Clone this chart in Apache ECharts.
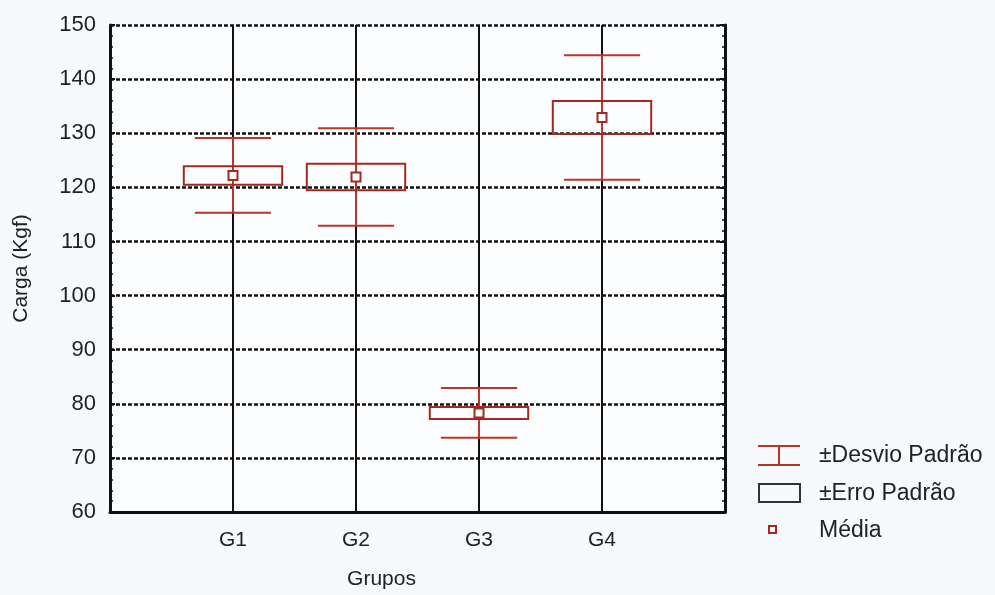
<!DOCTYPE html>
<html>
<head>
<meta charset="utf-8">
<script src="https://cdn.jsdelivr.net/npm/echarts@6/dist/echarts.min.js"></script>
<style>
html,body{margin:0;padding:0;background:#f7fafc;}
#chart{width:995px;height:595px;}
</style>
</head>
<body>
<div id="chart"></div>
<script>
var categories = ['G1', 'G2', 'G3', 'G4'];
var means = [122.2, 121.9, 78.3, 132.9];
var sdValues = [6.9, 9.0, 4.6, 11.5];
var seValues = [1.7, 2.45, 1.1, 3.05];
var yTicks = [60, 70, 80, 90, 100, 110, 120, 130, 140, 150];

var RED = '#b8352b';
var BOXRED = '#a3281f';
var FONT = 'Liberation Sans';

var whiskerData = categories.map(function (c, i) { return [i + 1, means[i], sdValues[i]]; });
var boxData = categories.map(function (c, i) { return [i + 1, means[i], seValues[i]]; });
var meanData = categories.map(function (c, i) { return [i + 1, means[i]]; });

var chart = echarts.init(document.getElementById('chart'), null, {renderer: 'canvas'});
var option = {
  backgroundColor: '#f7fafc',
  animation: false,
  textStyle: {fontFamily: FONT},
  grid: {left: 110, right: 270, top: 25, bottom: 80, show: true, backgroundColor: '#fcfdfe', borderWidth: 0},
  xAxis: {
    type: 'value', min: 0, max: 5, interval: 1,
    name: 'Grupos', nameLocation: 'middle', nameGap: 57,
    nameTextStyle: {fontFamily: FONT, fontSize: 21, color: '#222', padding: [0, 72, 0, 0]},
    axisLine: {show: true, onZero: false, lineStyle: {color: '#111', width: 3}},
    axisTick: {show: false},
    axisLabel: {
      fontFamily: FONT, fontSize: 21, color: '#222', margin: 18,
      formatter: function (v) { return (v >= 1 && v <= categories.length) ? categories[v - 1] : ''; }
    },
    splitLine: {show: true, lineStyle: {color: '#111', width: 2, type: 'solid'}}
  },
  yAxis: [{
    type: 'value', min: yTicks[0], max: yTicks[yTicks.length - 1], interval: 10,
    name: 'Carga (Kgf)', nameLocation: 'middle', nameGap: 78,
    nameTextStyle: {fontFamily: FONT, fontSize: 21, color: '#222'},
    axisLine: {show: true, onZero: false, lineStyle: {color: '#111', width: 3}},
    axisTick: {show: true, inside: true, length: 5, lineStyle: {color: '#111', width: 2}},
    minorTick: {show: true, splitNumber: 5, length: 3, lineStyle: {color: '#111', width: 1.5}},
    axisLabel: {fontFamily: FONT, fontSize: 22, color: '#222', margin: 14},
    splitLine: {show: true, lineStyle: {color: '#111', width: 2.5, type: [4, 2]}}
  }, {
    type: 'value', min: yTicks[0], max: yTicks[yTicks.length - 1], interval: 10, position: 'right',
    axisLine: {show: true, onZero: false, lineStyle: {color: '#111', width: 3}},
    axisTick: {show: true, inside: true, length: 5, lineStyle: {color: '#111', width: 2}},
    minorTick: {show: true, splitNumber: 5, length: 3, lineStyle: {color: '#111', width: 1.5}},
    axisLabel: {show: false},
    splitLine: {show: false}
  }],
  series: [{
    name: '±Desvio Padrão',
    type: 'custom',
    data: whiskerData,
    z: 3,
    renderItem: function (params, api) {
      var x = api.value(0), m = api.value(1), s = api.value(2);
      var top = api.coord([x, m + s]);
      var bot = api.coord([x, m - s]);
      var hw = api.size([0.31, 0])[0];
      var st = {stroke: RED, lineWidth: 2, fill: null};
      return {type: 'group', children: [
        {type: 'line', shape: {x1: top[0], y1: top[1], x2: bot[0], y2: bot[1]}, style: st},
        {type: 'line', shape: {x1: top[0] - hw, y1: top[1], x2: top[0] + hw, y2: top[1]}, style: st},
        {type: 'line', shape: {x1: bot[0] - hw, y1: bot[1], x2: bot[0] + hw, y2: bot[1]}, style: st}
      ]};
    }
  }, {
    name: '±Erro Padrão',
    type: 'custom',
    data: boxData,
    z: 4,
    renderItem: function (params, api) {
      var x = api.value(0), m = api.value(1), s = api.value(2);
      var tl = api.coord([x, m + s]);
      var br = api.coord([x, m - s]);
      var hw = api.size([0.4, 0])[0];
      return {type: 'rect', shape: {x: tl[0] - hw, y: tl[1], width: hw * 2, height: br[1] - tl[1]},
        style: {stroke: BOXRED, lineWidth: 2, fill: null}};
    }
  }, {
    name: 'Média',
    type: 'scatter',
    data: meanData,
    symbol: 'rect',
    symbolSize: 9,
    z: 5,
    itemStyle: {color: '#ffffff', borderColor: BOXRED, borderWidth: 2, opacity: 1}
  }],
  graphic: [
    {type: 'line', shape: {x1: 758, y1: 446, x2: 800, y2: 446}, style: {stroke: RED, lineWidth: 2}},
    {type: 'line', shape: {x1: 758, y1: 465, x2: 800, y2: 465}, style: {stroke: RED, lineWidth: 2}},
    {type: 'line', shape: {x1: 779, y1: 446, x2: 779, y2: 465}, style: {stroke: RED, lineWidth: 2}},
    {type: 'text', left: 819, top: 444, style: {text: '±Desvio Padrão', font: '23px "Liberation Sans"', fill: '#222'}},
    {type: 'rect', shape: {x: 759, y: 484, width: 41, height: 18}, style: {stroke: '#333', lineWidth: 2, fill: 'none'}},
    {type: 'text', left: 819, top: 482, style: {text: '±Erro Padrão', font: '23px "Liberation Sans"', fill: '#222'}},
    {type: 'rect', shape: {x: 769, y: 526, width: 7, height: 7}, style: {stroke: BOXRED, lineWidth: 2, fill: '#fff'}},
    {type: 'text', left: 819, top: 519, style: {text: 'Média', font: '23px "Liberation Sans"', fill: '#222'}}
  ]
};
chart.setOption(option);
</script>
</body>
</html>
